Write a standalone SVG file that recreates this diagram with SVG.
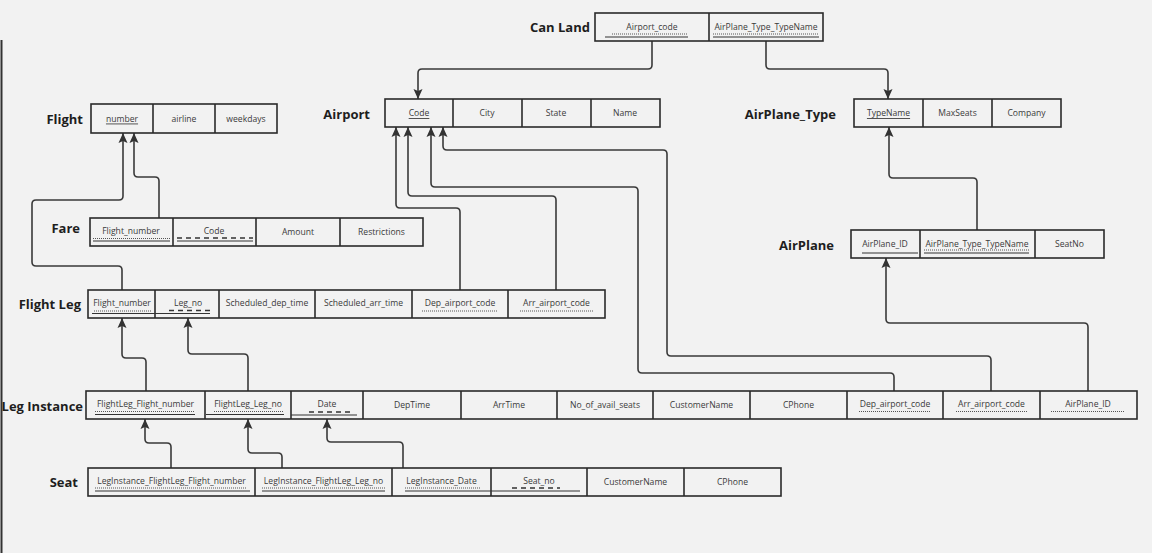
<svg xmlns="http://www.w3.org/2000/svg" width="1152" height="553" viewBox="0 0 1152 553">
<style>
.bg{fill:#f2f2f2}
.box{fill:none;stroke:#2a2a2a;stroke-width:1.6}
.div{stroke:#2a2a2a;stroke-width:1.6}
.lbl{font-family:"Open Sans","Noto Sans",sans-serif;font-weight:bold;font-size:13px;fill:#1e1e1e;text-anchor:end;dominant-baseline:central}
.att{font-family:"Open Sans","Noto Sans",sans-serif;font-size:8.6px;fill:#3a3a3a;text-anchor:middle;dominant-baseline:central}
.u{text-decoration:underline}
.pk{stroke:#333;stroke-width:1;fill:none}
.fk{stroke:#555;stroke-width:1;stroke-dasharray:1 1;fill:none}
.pd{stroke:#333;stroke-width:1.5;stroke-dasharray:5 4;fill:none}
.con{fill:none;stroke:#3a3a3a;stroke-width:1.6}
</style>
<defs>
<marker id="arr" viewBox="0 0 10 10" refX="10" refY="5" markerWidth="10" markerHeight="10" markerUnits="userSpaceOnUse" orient="auto">
<path d="M0,0.5 L10,5 L0,9.5 L2,5 z" fill="#333"/>
</marker>
</defs>
<rect class="bg" x="0" y="0" width="1152" height="553"/>
<line x1="1.5" y1="40" x2="1.5" y2="553" stroke="#333" stroke-width="2"/>

<g id="connectors">
<path class="con" marker-end="url(#arr)" d="M652,41 V65 Q652,69 648,69 H422 Q418,69 418,73 V99"/>
<path class="con" marker-end="url(#arr)" d="M766,41 V65 Q766,69 770,69 H884 Q888,69 888,73 V99"/>
<path class="con" marker-end="url(#arr)" d="M159,218 V181 Q159,177 155,177 H138 Q134,177 134,173 V133"/>
<path class="con" marker-end="url(#arr)" d="M122,290 V270 Q122,266 118,266 H36 Q32,266 32,262 V204 Q32,200 36,200 H119 Q123,200 123,196 V133"/>
<path class="con" marker-end="url(#arr)" d="M460,290 V212 Q460,208 456,208 H400 Q396,208 396,204 V127"/>
<path class="con" marker-end="url(#arr)" d="M556,290 V200 Q556,196 552,196 H412 Q408,196 408,192 V127"/>
<path class="con" marker-end="url(#arr)" d="M894,391 V377 Q894,373 890,373 H642 Q638,373 638,369 V191 Q638,187 634,187 H435 Q431,187 431,183 V127"/>
<path class="con" marker-end="url(#arr)" d="M991,391 V360 Q991,356 987,356 H671 Q667,356 667,352 V154 Q667,150 663,150 H447 Q443,150 443,146 V127"/>
<path class="con" marker-end="url(#arr)" d="M977,230 V182 Q977,178 973,178 H893 Q889,178 889,174 V127"/>
<path class="con" marker-end="url(#arr)" d="M1088,391 V327 Q1088,323 1084,323 H890 Q886,323 886,319 V258"/>
<path class="con" marker-end="url(#arr)" d="M146,391 V362 Q146,358 142,358 H126 Q122,358 122,354 V318"/>
<path class="con" marker-end="url(#arr)" d="M248,391 V358 Q248,354 244,354 H192 Q188,354 188,350 V318"/>
<path class="con" marker-end="url(#arr)" d="M171,468 V447 Q171,443 167,443 H149 Q145,443 145,439 V419"/>
<path class="con" marker-end="url(#arr)" d="M282,468 V457 Q282,453 278,453 H252 Q248,453 248,449 V419"/>
<path class="con" marker-end="url(#arr)" d="M403,468 V446 Q403,442 399,442 H331 Q327,442 327,438 V419"/>
</g>

<g id="can-land">
<text class="lbl" x="590" y="27">Can Land</text>
<rect class="box" x="595" y="13" width="228" height="28"/>
<line class="div" x1="709" y1="13" x2="709" y2="41"/>
<text class="att" x="652" y="27">Airport_code</text>
<line class="fk" x1="612" y1="34" x2="688" y2="34"/>
<line class="pk" x1="605" y1="37" x2="688" y2="37"/>
<text class="att" x="766" y="27">AirPlane_Type_TypeName</text>
<line class="fk" x1="713" y1="34" x2="819" y2="34"/>
<line class="pk" x1="713" y1="37" x2="819" y2="37"/>
</g>

<g id="flight">
<text class="lbl" x="83" y="119">Flight</text>
<rect class="box" x="91" y="104" width="186" height="29"/>
<line class="div" x1="153" y1="104" x2="153" y2="133"/>
<line class="div" x1="215" y1="104" x2="215" y2="133"/>
<text class="att u" x="122" y="118.5">number</text>
<text class="att" x="184" y="118.5">airline</text>
<text class="att" x="246" y="118.5">weekdays</text>
</g>

<g id="airport">
<text class="lbl" x="370" y="114">Airport</text>
<rect class="box" x="385" y="99" width="275" height="28"/>
<line class="div" x1="453" y1="99" x2="453" y2="127"/>
<line class="div" x1="522" y1="99" x2="522" y2="127"/>
<line class="div" x1="591" y1="99" x2="591" y2="127"/>
<text class="att u" x="419" y="113">Code</text>
<text class="att" x="487" y="113">City</text>
<text class="att" x="556" y="113">State</text>
<text class="att" x="625" y="113">Name</text>
</g>

<g id="airplane-type">
<text class="lbl" x="836" y="114">AirPlane_Type</text>
<rect class="box" x="854" y="99" width="207" height="28"/>
<line class="div" x1="923" y1="99" x2="923" y2="127"/>
<line class="div" x1="992" y1="99" x2="992" y2="127"/>
<text class="att u" x="888.5" y="113">TypeName</text>
<text class="att" x="957.5" y="113">MaxSeats</text>
<text class="att" x="1026.5" y="113">Company</text>
</g>

<g id="fare">
<text class="lbl" x="80" y="228">Fare</text>
<rect class="box" x="90" y="218" width="333" height="28"/>
<line class="div" x1="173" y1="218" x2="173" y2="246"/>
<line class="div" x1="256" y1="218" x2="256" y2="246"/>
<line class="div" x1="340" y1="218" x2="340" y2="246"/>
<text class="att" x="131" y="231">Flight_number</text>
<line class="fk" x1="93" y1="238.5" x2="170" y2="238.5"/>
<line class="pk" x1="93" y1="241" x2="170" y2="241"/>
<text class="att" x="214" y="231">Code</text>
<line class="pd" x1="177" y1="238" x2="253" y2="238"/>
<line class="pk" x1="177" y1="241" x2="253" y2="241"/>
<text class="att" x="298" y="232">Amount</text>
<text class="att" x="381.5" y="232">Restrictions</text>
</g>

<g id="airplane">
<text class="lbl" x="834" y="245">AirPlane</text>
<rect class="box" x="851" y="230" width="253" height="28"/>
<line class="div" x1="920" y1="230" x2="920" y2="258"/>
<line class="div" x1="1035" y1="230" x2="1035" y2="258"/>
<text class="att" x="885" y="244">AirPlane_ID</text>
<line class="pk" x1="862" y1="253" x2="918" y2="253"/>
<text class="att" x="977" y="244">AirPlane_Type_TypeName</text>
<line class="fk" x1="924" y1="250" x2="1029" y2="250"/>
<line class="pk" x1="924" y1="253" x2="1029" y2="253"/>
<text class="att" x="1069.5" y="244">SeatNo</text>
</g>

<g id="flight-leg">
<text class="lbl" x="81" y="304">Flight Leg</text>
<rect class="box" x="88" y="290" width="517" height="28"/>
<line class="div" x1="155" y1="290" x2="155" y2="318"/>
<line class="div" x1="219" y1="290" x2="219" y2="318"/>
<line class="div" x1="315" y1="290" x2="315" y2="318"/>
<line class="div" x1="412" y1="290" x2="412" y2="318"/>
<line class="div" x1="508" y1="290" x2="508" y2="318"/>
<text class="att" x="122" y="303">Flight_number</text>
<line class="fk" x1="94" y1="311" x2="152" y2="311"/>
<line class="pk" x1="92" y1="313.5" x2="210" y2="313.5"/>
<text class="att" x="188" y="303">Leg_no</text>
<line class="pd" x1="169" y1="310.5" x2="210" y2="310.5"/>
<text class="att" x="267" y="303">Scheduled_dep_time</text>
<text class="att" x="363.5" y="303">Scheduled_arr_time</text>
<text class="att" x="460" y="303">Dep_airport_code</text>
<line class="fk" x1="422" y1="311" x2="497" y2="311"/>
<text class="att" x="556.5" y="303">Arr_airport_code</text>
<line class="fk" x1="520" y1="311" x2="593" y2="311"/>
</g>

<g id="leg-instance">
<text class="lbl" x="83" y="406">Leg Instance</text>
<rect class="box" x="86" y="391" width="1051" height="28"/>
<line class="div" x1="205" y1="391" x2="205" y2="419"/>
<line class="div" x1="291" y1="391" x2="291" y2="419"/>
<line class="div" x1="363" y1="391" x2="363" y2="419"/>
<line class="div" x1="461" y1="391" x2="461" y2="419"/>
<line class="div" x1="557" y1="391" x2="557" y2="419"/>
<line class="div" x1="653" y1="391" x2="653" y2="419"/>
<line class="div" x1="750" y1="391" x2="750" y2="419"/>
<line class="div" x1="847" y1="391" x2="847" y2="419"/>
<line class="div" x1="943" y1="391" x2="943" y2="419"/>
<line class="div" x1="1040" y1="391" x2="1040" y2="419"/>
<text class="att" x="145.5" y="404">FlightLeg_Flight_number</text>
<line class="fk" x1="95" y1="411.5" x2="195" y2="411.5"/>
<line class="pk" x1="95" y1="414.5" x2="195" y2="414.5"/>
<text class="att" x="248" y="404">FlightLeg_Leg_no</text>
<line class="fk" x1="214" y1="411.5" x2="284" y2="411.5"/>
<line class="pk" x1="206" y1="414.5" x2="284" y2="414.5"/>
<text class="att" x="327" y="404">Date</text>
<line class="pd" x1="309" y1="412" x2="352" y2="412"/>
<line class="pk" x1="291" y1="415" x2="357" y2="415"/>
<text class="att" x="412" y="405">DepTime</text>
<text class="att" x="509" y="405">ArrTime</text>
<text class="att" x="605" y="405">No_of_avail_seats</text>
<text class="att" x="701.5" y="405">CustomerName</text>
<text class="att" x="798.5" y="405">CPhone</text>
<text class="att" x="895" y="404">Dep_airport_code</text>
<line class="fk" x1="859" y1="411.5" x2="931" y2="411.5"/>
<text class="att" x="991.5" y="404">Arr_airport_code</text>
<line class="fk" x1="956" y1="411.5" x2="1027" y2="411.5"/>
<text class="att" x="1088" y="404">AirPlane_ID</text>
<line class="fk" x1="1051" y1="411.5" x2="1124" y2="411.5"/>
</g>

<g id="seat">
<text class="lbl" x="78" y="482">Seat</text>
<rect class="box" x="88" y="468" width="693" height="28"/>
<line class="div" x1="255" y1="468" x2="255" y2="496"/>
<line class="div" x1="392" y1="468" x2="392" y2="496"/>
<line class="div" x1="491" y1="468" x2="491" y2="496"/>
<line class="div" x1="587" y1="468" x2="587" y2="496"/>
<line class="div" x1="684" y1="468" x2="684" y2="496"/>
<text class="att" x="171.5" y="481">LegInstance_FlightLeg_Flight_number</text>
<line class="fk" x1="95" y1="488" x2="247" y2="488"/>
<line class="pk" x1="95" y1="491" x2="250" y2="491"/>
<text class="att" x="323.5" y="481">LegInstance_FlightLeg_Leg_no</text>
<line class="fk" x1="262" y1="488" x2="385" y2="488"/>
<line class="pk" x1="262" y1="491" x2="385" y2="491"/>
<text class="att" x="441.5" y="481">LegInstance_Date</text>
<line class="fk" x1="405" y1="488" x2="480" y2="488"/>
<line class="pk" x1="405" y1="491" x2="580" y2="491"/>
<text class="att" x="539" y="481">Seat_no</text>
<line class="pd" x1="512" y1="488" x2="560" y2="488"/>
<text class="att" x="635.5" y="482">CustomerName</text>
<text class="att" x="732.5" y="482">CPhone</text>
</g>
</svg>
